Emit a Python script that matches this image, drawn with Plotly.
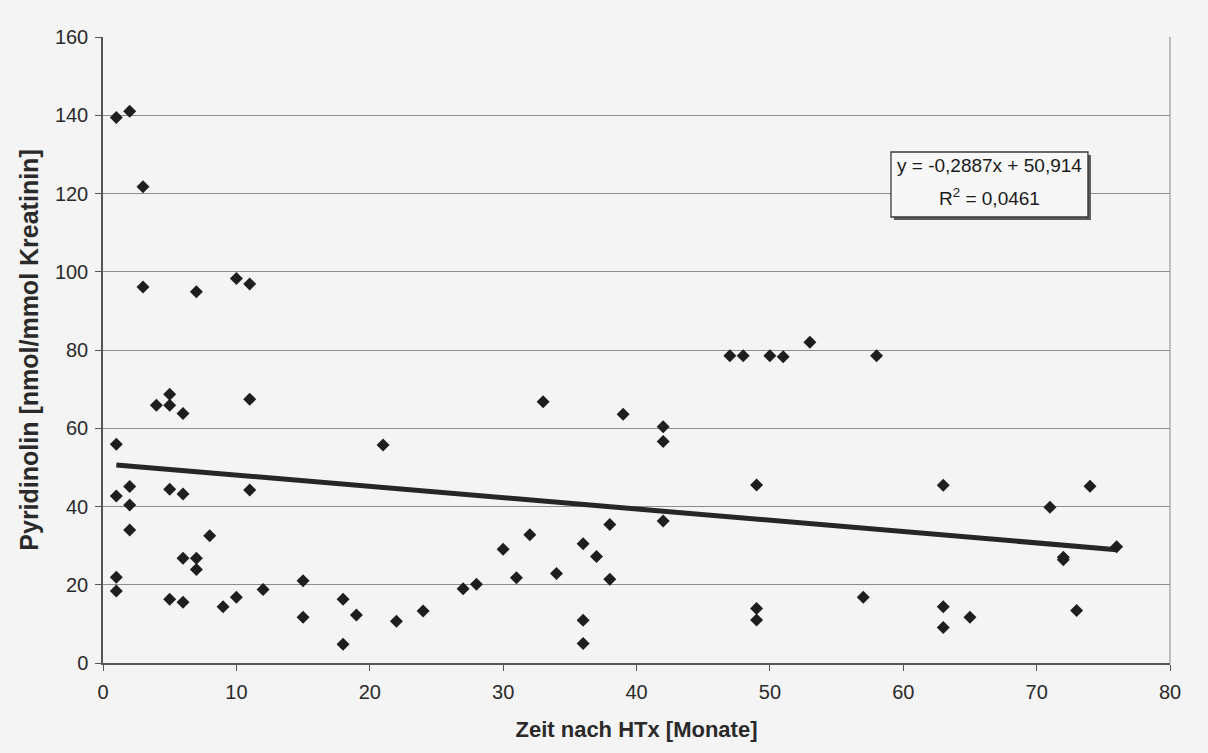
import plotly.graph_objects as go

# Data (months after HTx, pyridinoline)
months = [1, 2, 3, 3, 7, 10, 11,
          1, 1, 2, 2, 2, 1, 1, 4, 5, 5, 6, 5, 6, 6, 7, 7, 8, 5, 6, 9, 10, 11, 11, 12,
          15, 15, 18, 18, 19, 21, 22,
          24, 27, 28, 30, 31, 32, 33, 34, 36, 36, 36, 37, 38, 38, 39, 42, 42, 42,
          47, 48, 50, 51, 49, 49, 49,
          53, 58, 57, 63, 63, 63, 65, 71, 72, 72, 73, 74, 76]
pyridinolin = [139.4, 141.0, 121.7, 96.1, 94.9, 98.3, 96.9,
               55.9, 42.7, 45.1, 40.4, 34.0, 21.9, 18.4, 65.9, 68.7, 65.9, 63.8, 44.4, 43.2, 26.8, 26.8, 23.9, 32.5, 16.3, 15.5, 14.4, 16.8, 67.4, 44.2, 18.8,
               21.0, 11.7, 16.3, 4.8, 12.3, 55.7, 10.7,
               13.3, 19.0, 20.1, 29.1, 21.8, 32.8, 66.8, 22.9, 30.5, 10.9, 5.0, 27.2, 35.4, 21.4, 63.6, 60.4, 56.6, 36.3,
               78.5, 78.5, 78.5, 78.3, 45.5, 13.9, 11.0,
               82.0, 78.5, 16.8, 45.4, 14.4, 9.1, 11.7, 39.8, 26.4, 27.0, 13.4, 45.2, 29.7]

slope = -0.2887
intercept = 50.914
trend_x = [1, 76]
trend_y = [slope * v + intercept for v in trend_x]

x_ticks = [0, 10, 20, 30, 40, 50, 60, 70, 80]
y_ticks = [0, 20, 40, 60, 80, 100, 120, 140, 160]

eq_line1 = "y = -0,2887x + 50,914"
eq_line2 = "R<sup>2</sup> = 0,0461"
x_title = "Zeit nach HTx [Monate]"
y_title = "Pyridinolin [nmol/mmol Kreatinin]"

font_family = "Liberation Sans, Arial, sans-serif"
bg = "#f4f4f4"

fig = go.Figure()
fig.add_trace(go.Scatter(
    x=trend_x, y=trend_y, mode="lines",
    line=dict(color="#262626", width=5), showlegend=False, hoverinfo="skip"))
fig.add_trace(go.Scatter(
    x=months, y=pyridinolin, mode="markers",
    marker=dict(symbol="diamond", size=10, color="#1e1e1e"),
    showlegend=False))

# equation box: shadow then framed box
fig.add_shape(type="rect", xref="paper", yref="paper",
              x0=0.7413, x1=0.9259, y0=0.7077, y1=0.8115,
              fillcolor="#5a5a5a", line=dict(width=0))
fig.add_shape(type="rect", xref="paper", yref="paper",
              x0=0.7385, x1=0.9231, y0=0.7125, y1=0.8163,
              fillcolor="#f7f7f7", line=dict(color="#3a3a3a", width=1.3))

fig.add_annotation(
    xref="paper", yref="paper", x=0.8308, y=0.794,
    xanchor="center", yanchor="middle",
    text=eq_line1, showarrow=False,
    font=dict(family=font_family, size=19, color="#1a1a1a"))
fig.add_annotation(
    xref="paper", yref="paper", x=0.8308, y=0.744,
    xanchor="center", yanchor="middle",
    text=eq_line2, showarrow=False,
    font=dict(family=font_family, size=19, color="#1a1a1a"))

fig.update_layout(
    width=1208, height=753,
    margin=dict(l=103, r=38, t=37, b=90),
    paper_bgcolor=bg, plot_bgcolor=bg,
    font=dict(family=font_family, size=20, color="#2a2a2a"),
    xaxis=dict(
        range=[0, 80], tickvals=x_ticks, ticktext=[str(v) for v in x_ticks],
        showgrid=False, zeroline=False,
        showline=True, linecolor="#555555", linewidth=1.5, mirror=False,
        ticks="outside", ticklen=6, tickcolor="#555555",
        tickfont=dict(size=20), ticklabelstandoff=4,
        title=dict(text="<b>" + x_title + "</b>", font=dict(size=22), standoff=20)),
    yaxis=dict(
        range=[0, 160], tickvals=y_ticks, ticktext=[str(v) for v in y_ticks],
        showgrid=True, gridcolor="#8c8c8c", gridwidth=1,
        zeroline=False,
        showline=True, linecolor="#555555", linewidth=1.5,
        ticks="outside", ticklen=6, tickcolor="#555555",
        tickfont=dict(size=20), ticklabelstandoff=3,
        title=dict(text="<b>" + y_title + "</b>", font=dict(size=25), standoff=9)),
)
# right border of plot area
fig.add_shape(type="line", xref="paper", yref="paper", x0=1, x1=1, y0=0, y1=1,
              line=dict(color="#9a9a9a", width=1.2))

fig.write_html("out.html")
